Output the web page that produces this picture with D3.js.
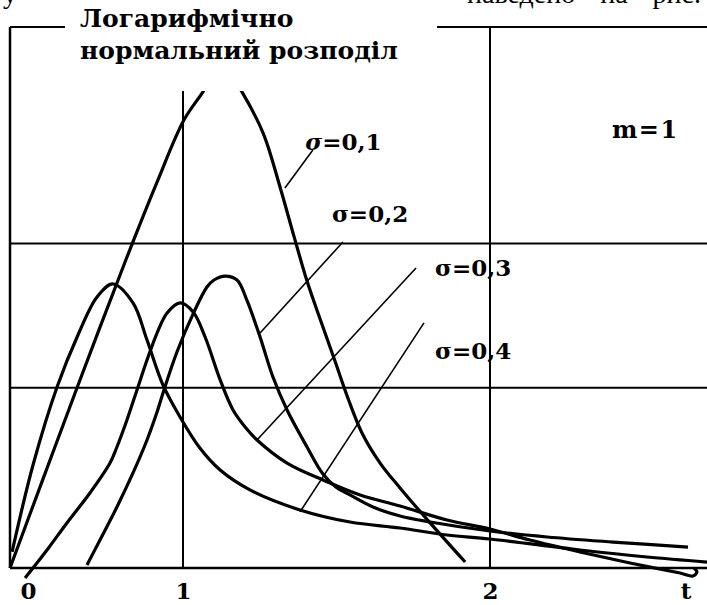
<!DOCTYPE html>
<html>
<head>
<meta charset="utf-8">
<script src="https://cdn.jsdelivr.net/npm/d3@7"></script>
<style>
  html, body { margin: 0; padding: 0; background: #fff; }
  svg { display: block; }
</style>
</head>
<body>
<svg id="chart" width="707" height="605"></svg>
<script>
// Axis ticks along t and grid levels of the density axis
const tTicks = [0, 1, 2];
const tTickLabels = ["0", "1", "2"];
const tAxisName = "t";
const gridT = [1, 2];
const gridF = [1.0, 1.8];

// Log-normal density curves, m = 1
const sigma01T = [0, 0.191, 0.387, 0.665, 0.850, 1.003, 1.065, 1.127, 1.192, 1.261, 1.316, 1.362, 1.404, 1.450, 1.495, 1.537, 1.583, 1.642, 1.707, 1.805, 1.919];
const sigma01F = [0, 0.494, 0.998, 1.697, 2.140, 2.484, 2.640, 2.806, 2.640, 2.412, 2.113, 1.836, 1.591, 1.364, 1.148, 0.943, 0.749, 0.582, 0.444, 0.250, 0.033];

const sigma02T = [0.445, 0.520, 0.618, 0.711, 0.792, 0.850, 0.890, 0.965, 1.033, 1.078, 1.101, 1.137, 1.176, 1.208, 1.251, 1.293, 1.339, 1.404, 1.456, 1.498, 1.544, 1.619, 1.707, 1.805, 2.0, 2.186, 2.401, 2.645];
const sigma02F = [0.017, 0.155, 0.338, 0.527, 0.710, 0.865, 0.987, 1.198, 1.409, 1.558, 1.597, 1.619, 1.597, 1.486, 1.281, 1.059, 0.876, 0.671, 0.521, 0.449, 0.405, 0.338, 0.288, 0.255, 0.205, 0.172, 0.144, 0.116];

const sigma03T = [0.087, 0.214, 0.329, 0.462, 0.578, 0.618, 0.676, 0.734, 0.792, 0.850, 0.908, 0.983, 1.033, 1.072, 1.121, 1.163, 1.205, 1.241, 1.339, 1.456, 1.577, 1.707, 1.860, 2.0, 2.130, 2.293, 2.456, 2.619, 2.661, 2.674, 2.664];
const sigma03F = [-0.055, 0.100, 0.250, 0.416, 0.582, 0.671, 0.821, 0.987, 1.153, 1.303, 1.414, 1.470, 1.420, 1.281, 1.043, 0.876, 0.776, 0.710, 0.582, 0.488, 0.405, 0.344, 0.266, 0.216, 0.155, 0.089, 0.028, -0.028, -0.044, -0.022, 0.000];

const sigma04T = [0.012, 0.133, 0.272, 0.393, 0.503, 0.595, 0.711, 0.792, 0.884, 0.983, 1.055, 1.121, 1.218, 1.381, 1.544, 1.707, 1.860, 2.0, 2.293, 2.511, 2.707];
const sigma04F = [0.089, 0.571, 1.004, 1.292, 1.503, 1.575, 1.470, 1.264, 1.015, 0.837, 0.665, 0.543, 0.433, 0.322, 0.255, 0.222, 0.183, 0.161, 0.100, 0.061, 0.033];

const seriesNames = ["σ=0,1", "σ=0,2", "σ=0,3", "σ=0,4"];
const titleLines = ["Логарифмічно", "нормальний розподіл"];
const paramLabel = "m=1";
const pageTextLeft = "у";
const pageTextRight = ["наведено", "на", "рис."];

const series = [
  { name: seriesNames[0], t: sigma01T, f: sigma01F },
  { name: seriesNames[1], t: sigma02T, f: sigma02F },
  { name: seriesNames[2], t: sigma03T, f: sigma03F },
  { name: seriesNames[3], t: sigma04T, f: sigma04F }
];

// Where each curve label sits and where its leader touches the curve (t, f)
const labelAt = [
  { text: [1.398, 2.318], lead: [[1.332, 2.107], [1.423, 2.318]] },
  { text: [1.485, 1.919], lead: [[1.251, 1.303], [1.521, 1.808]] },
  { text: [1.821, 1.619], lead: [[1.241, 0.710], [1.759, 1.664]] },
  { text: [1.821, 1.159], lead: [[1.381, 0.311], [1.785, 1.359]] }
];
const paramAt = [2.397, 2.385];

const W = 707, H = 605;
const plotLeft = 10, plotTop = 27, plotBottom = 568;

const x = d3.scaleLinear().domain(tTicks).range([plotLeft, 183, 490]);
const y = d3.scaleLinear().domain([0, 3]).range([plotBottom, plotTop]);

const svg = d3.select("#chart");
const ink = "#000";

// grid
svg.append("g").selectAll("line").data(gridF).join("line")
  .attr("x1", plotLeft).attr("x2", W)
  .attr("y1", d => y(d)).attr("y2", d => y(d))
  .attr("stroke", ink).attr("stroke-width", 2);
svg.append("g").selectAll("line").data(gridT).join("line")
  .attr("x1", d => x(d)).attr("x2", d => x(d))
  .attr("y1", plotTop).attr("y2", plotBottom)
  .attr("stroke", ink).attr("stroke-width", 2);

// frame: top edge, left edge, t axis
svg.append("line").attr("x1", plotLeft).attr("x2", W).attr("y1", plotTop).attr("y2", plotTop)
  .attr("stroke", ink).attr("stroke-width", 2);
svg.append("line").attr("x1", plotLeft).attr("x2", plotLeft).attr("y1", plotTop).attr("y2", plotBottom)
  .attr("stroke", ink).attr("stroke-width", 2.5);
svg.append("line").attr("x1", plotLeft).attr("x2", W).attr("y1", plotBottom).attr("y2", plotBottom)
  .attr("stroke", ink).attr("stroke-width", 2.5);

// curves
const line = d3.line()
  .x(d => x(d[0])).y(d => y(d[1]))
  .curve(d3.curveCatmullRom.alpha(0.5));
svg.append("g").selectAll("path").data(series).join("path")
  .attr("d", s => line(s.t.map((t, i) => [t, s.f[i]])))
  .attr("fill", "none").attr("stroke", ink).attr("stroke-width", 3.2)
  .attr("stroke-linejoin", "round");

// leaders
svg.append("g").selectAll("line").data(labelAt).join("line")
  .attr("x1", d => x(d.lead[0][0])).attr("y1", d => y(d.lead[0][1]))
  .attr("x2", d => x(d.lead[1][0])).attr("y2", d => y(d.lead[1][1]))
  .attr("stroke", ink).attr("stroke-width", 1.6);

// clear band behind the title
svg.append("rect").attr("x", 65).attr("y", 0).attr("width", 372).attr("height", 91)
  .attr("fill", "#fff");

// title
const titleFont = "'DejaVu Serif', serif";
svg.append("g").selectAll("text").data(titleLines).join("text")
  .attr("x", 80).attr("y", (d, i) => 27 + i * 32)
  .attr("font-family", titleFont).attr("font-weight", "bold").attr("font-size", 25)
  .attr("fill", ink)
  .text(d => d);

// curve labels
const labels = svg.append("g").selectAll("text").data(series).join("text")
  .attr("x", (d, i) => x(labelAt[i].text[0]))
  .attr("y", (d, i) => y(labelAt[i].text[1]))
  .attr("font-family", titleFont).attr("font-weight", "bold").attr("font-size", 23)
  .attr("fill", ink);
labels.append("tspan").attr("font-style", (d, i) => i === 0 ? "italic" : "normal")
  .text(d => d.name.slice(0, 1));
labels.append("tspan").text(d => d.name.slice(1));

svg.append("text").attr("x", x(paramAt[0])).attr("y", y(paramAt[1]))
  .attr("font-family", titleFont).attr("font-weight", "bold").attr("font-size", 24)
  .attr("letter-spacing", 1.5)
  .attr("fill", ink).text(paramLabel);

// t axis labels
const axis = d3.axisBottom(x).tickValues(tTicks).tickFormat((d, i) => tTickLabels[i])
  .tickSize(0).tickPadding(0);
const ag = svg.append("g").attr("transform", `translate(0,${plotBottom})`).call(axis);
ag.select(".domain").remove();
ag.selectAll("text")
  .attr("font-family", titleFont).attr("font-weight", "bold").attr("font-size", 23)
  .attr("fill", ink)
  .attr("y", 31).attr("dy", 0)
  .attr("dx", d => d === 0 ? 18 : 0);
svg.append("text").attr("x", 686).attr("y", plotBottom + 31).attr("text-anchor", "middle")
  .attr("font-family", titleFont).attr("font-weight", "bold").attr("font-size", 23)
  .attr("fill", ink).text(tAxisName);

// end of the running text line above the figure
const pageFont = "'Liberation Serif', 'Times New Roman', serif";
svg.append("text").attr("x", 3).attr("y", 3)
  .attr("font-family", pageFont).attr("font-size", 28).attr("fill", ink).text(pageTextLeft);
svg.append("text").attr("x", 467).attr("y", 3)
  .attr("font-family", pageFont).attr("font-size", 28).attr("word-spacing", 18)
  .attr("fill", ink).text(pageTextRight.join(" "));
</script>
</body>
</html>
